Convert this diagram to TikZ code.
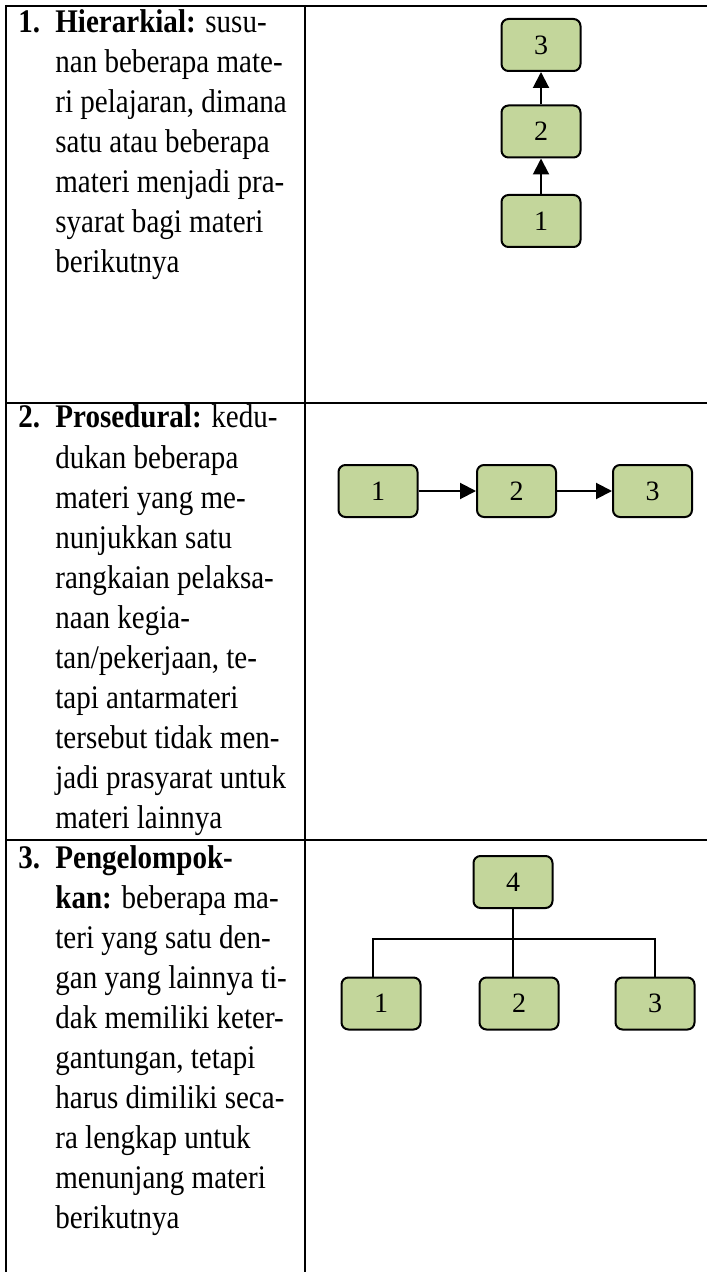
\documentclass[tikz,border=0pt]{standalone}
\usepackage{fontspec}
\setmainfont[FakeStretch=0.88]{Liberation Serif}
\newfontfamily\boxfont{Liberation Serif}
\usetikzlibrary{arrows.meta}
\definecolor{boxgreen}{HTML}{C3D69B}
\begin{document}
\begin{tikzpicture}[x=0.5pt,y=-0.5pt,
  rule/.style={line width=1pt},
  mbox/.style={draw, line width=1pt, rounded corners=3.5pt, fill=boxgreen,
    minimum width=39.5pt, minimum height=26pt, inner sep=0pt,
    font=\boxfont\fontsize{14}{16}\selectfont},
  link/.style={line width=1pt, -{Triangle[width=8pt,length=8pt]}},
  wire/.style={line width=1pt},
  itemnum/.style={anchor=base west, inner sep=0pt, font=\fontsize{16.5}{20}\selectfont\bfseries},
  textline/.style={anchor=base west, inner sep=0pt, font=\fontsize{16.5}{20}\selectfont}]
\useasboundingbox (0,0) rectangle (707,1272);

% table rules
\draw[rule] (6,6) -- (707,6);
\draw[rule] (6,403) -- (707,403);
\draw[rule] (6,840) -- (707,840);
\draw[rule] (6,5) -- (6,1272);
\draw[rule] (305,5) -- (305,1272);

% row 1: hierarchical
\node[itemnum] (num1) at (18,33) {1.};
\foreach \t [count=\i] in {{\textbf{Hierarkial:} susu-},{nan beberapa mate-},
  {ri pelajaran, dimana},{satu atau beberapa},{materi menjadi pra-},
  {syarat bagi materi},{berikutnya}}
  \node[textline] (ra\i) at (55,{33+40*(\i-1)}) {\t};

\node[mbox] (h3) at (541,45) {3};
\node[mbox] (h2) at (541,131.5) {2};
\node[mbox] (h1) at (541,221) {1};
\draw[link] (h1) -- (h2);
\draw[link] (h2) -- (h3);

% row 2: procedural
\node[itemnum] (num2) at (18,428) {2.};
\foreach \t [count=\i] in {{\textbf{Prosedural:} kedu-},{dukan beberapa},
  {materi yang me-},{nunjukkan satu},{rangkaian pelaksa-},{naan kegia-},
  {tan/pekerjaan, te-},{tapi antarmateri},{tersebut tidak men-},
  {jadi prasyarat untuk},{materi lainnya}}
  \node[textline] (rb\i) at (55,{428+40*(\i-1)}) {\t};

\node[mbox] (p1) at (378,491) {1};
\node[mbox] (p2) at (516.5,491) {2};
\node[mbox] (p3) at (652.5,491) {3};
\draw[link] (p1) -- (p2);
\draw[link] (p2) -- (p3);

% row 3: grouping
\node[itemnum] (num3) at (18,868) {3.};
\foreach \t [count=\i] in {{\textbf{Pengelompok-}},{\textbf{kan:} beberapa ma-},
  {teri yang satu den-},{gan yang lainnya ti-},{dak memiliki keter-},
  {gantungan, tetapi},{harus dimiliki seca-},{ra lengkap untuk},
  {menunjang materi},{berikutnya}}
  \node[textline] (rc\i) at (55,{868+40*(\i-1)}) {\t};

\node[mbox] (g4) at (513,882) {4};
\node[mbox] (g1) at (381,1003.5) {1};
\node[mbox] (g2) at (519,1003.5) {2};
\node[mbox] (g3) at (655,1003.5) {3};
\coordinate (bar) at (513,939);
\draw[wire] (g4.south) -- (g4.south |- g2.north);
\draw[wire] ([xshift=-4pt]g1.north) |- (bar) -| (g3.north);
\end{tikzpicture}
\end{document}
